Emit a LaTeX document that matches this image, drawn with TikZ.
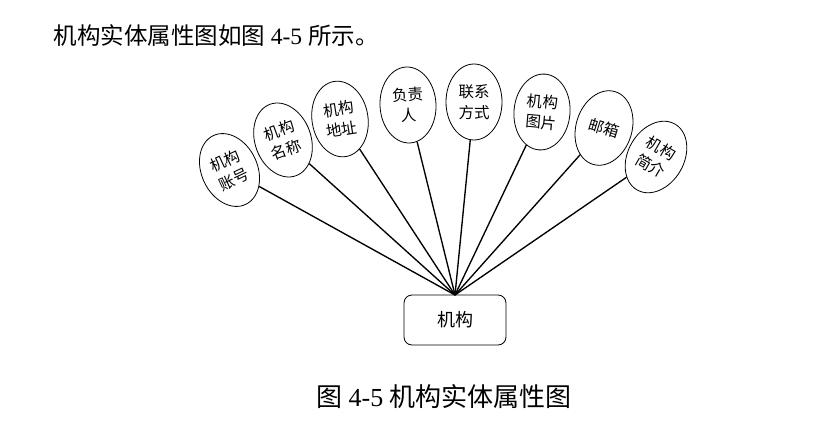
\documentclass[tikz,border=0pt]{standalone}
\usepackage{fontspec}
\setmainfont{Liberation Serif}
\newfontfamily\cjk{Noto Sans CJK SC}
\usetikzlibrary{shapes.geometric}
\begin{document}
\begin{tikzpicture}[x=1pt,y=-1pt,
  attr/.style={ellipse,draw,line width=0.8pt,minimum width=56pt,minimum height=76pt,
    inner sep=0pt,align=center,font=\cjk\fontsize{15.5}{20.5}\selectfont},
  entity/.style={draw,line width=0.8pt,rounded corners=8pt,minimum width=102pt,
    minimum height=50pt,font=\cjk\fontsize{18}{20}\selectfont},
  link/.style={line width=1.35pt}]
\useasboundingbox (0,0) rectangle (822,441);
\node[anchor=west,font=\fontsize{23.5}{25}\selectfont] (title) at (50,36)
  {{\cjk 机构实体属性图如图} 4-5 {\cjk 所示。}};
\node[entity] (org) at (455,320) {机构};
\coordinate (hub) at (455,295);
\node[attr,rotate=25] (a1) at (229.5,170) {机构\\账号};
\node[attr,rotate=20] (a2) at (283,140) {机构\\名称};
\node[attr,rotate=9] (a3) at (340,119) {机构\\地址};
\node[attr,rotate=3] (a4) at (408,105) {负责\\人};
\node[attr,rotate=0] (a5) at (474,102) {联系\\方式};
\node[attr,rotate=-5] (a6) at (542,112) {机构\\图片};
\node[attr,rotate=-17] (a7) at (604,128) {邮箱};
\node[attr,rotate=-30] (a8) at (656,157) {机构\\简介};
\foreach \i in {1,...,8} \draw[link] (a\i) -- (hub);
\node[font=\fontsize{26}{28}\selectfont] (cap) at (444,397)
  {{\cjk 图} 4-5 {\cjk 机构实体属性图}};
\end{tikzpicture}
\end{document}
